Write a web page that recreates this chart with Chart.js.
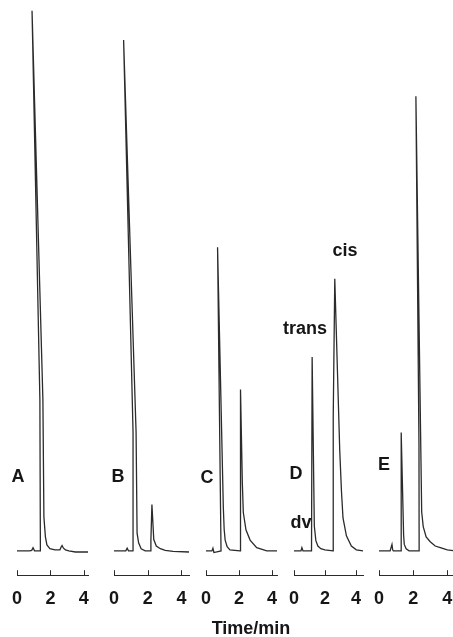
<!DOCTYPE html>
<html>
<head>
<meta charset="utf-8">
<script src="https://cdn.jsdelivr.net/npm/chart.js@4.4.1/dist/chart.umd.min.js"></script>
<style>
  html, body { margin: 0; padding: 0; background: #fff; }
  body { width: 453px; height: 637px; position: relative; overflow: hidden; }
  canvas { position: absolute; top: 0; }
  .lbl { position: absolute; transform: translate(-50%, -50%); font: bold 18px "Liberation Sans", Arial, sans-serif; color: #161616; white-space: nowrap; }
</style>
</head>
<body>
<canvas id="chartA"></canvas>
<canvas id="chartB"></canvas>
<canvas id="chartC"></canvas>
<canvas id="chartD"></canvas>
<canvas id="chartE"></canvas>

<div class="lbl" style="left:18px;top:476px">A</div>
<div class="lbl" style="left:118px;top:476px">B</div>
<div class="lbl" style="left:207px;top:477px">C</div>
<div class="lbl" style="left:296px;top:473px">D</div>
<div class="lbl" style="left:301px;top:522px">dv</div>
<div class="lbl" style="left:305px;top:328px">trans</div>
<div class="lbl" style="left:345px;top:250px">cis</div>
<div class="lbl" style="left:384px;top:464px">E</div>
<div class="lbl" style="left:251px;top:628px">Time/min</div>

<script>
// time (min) and detector response (A main peak = 100)
const timeA   = [0, 0.75, 0.88, 0.96, 1.05, 1.40, 1.37, 0.90, 1.55, 1.61, 1.70, 1.79, 1.97, 2.27, 2.57, 2.64, 2.70, 2.78, 2.90, 3.10, 3.50, 4.25];
const signalA = [0, 0, 0.1, 0.6, 0, 0, 28, 100, 28, 6.3, 2.6, 1.1, 0.4, 0.2, 0.2, 0.7, 1.0, 0.5, 0.2, 0, -0.2, -0.2];

const timeB   = [0, 0.70, 0.78, 0.86, 1.16, 1.13, 0.57, 1.31, 1.37, 1.46, 1.61, 1.85, 2.18, 2.19, 2.25, 2.36, 2.51, 2.75, 3.04, 3.50, 4.45];
const signalB = [0, 0, 0.5, 0, 0, 22, 94.6, 22, 3.3, 1.5, 0.4, 0, 0, 2, 8.6, 2.1, 0.9, 0.4, 0.1, -0.1, -0.2];

const timeC   = [0, 0.36, 0.42, 0.48, 0.91, 0.70, 1.05, 1.10, 1.16, 1.28, 1.45, 2.06, 2.09, 2.20, 2.26, 2.42, 2.67, 3.07, 3.68, 4.30];
const signalC = [0, 0, 0.5, -0.3, 0, 56.2, 8.0, 4.0, 2.0, 0.8, 0.2, 0, 29.9, 12.6, 7.1, 3.9, 2.0, 0.6, 0, 0];

const timeD   = [0, 0.45, 0.51, 0.58, 1.13, 1.17, 1.31, 1.41, 1.54, 1.73, 1.99, 2.52, 2.53, 2.63, 2.95, 3.06, 3.16, 3.38, 3.70, 4.02, 4.45];
const signalD = [0, 0, 0.6, 0, 0, 35.9, 4.6, 1.9, 0.9, 0.4, 0.2, 0, 24.7, 50.4, 18.6, 11.1, 6.1, 2.8, 0.9, 0.2, 0];

const timeE   = [0, 0.65, 0.76, 0.80, 0.84, 1.29, 1.30, 1.44, 1.48, 1.59, 1.76, 2.35, 2.34, 2.16, 2.50, 2.59, 2.76, 3.00, 3.29, 3.59, 4.00, 4.45];
const signalE = [0, 0, 1.2, 0.2, 0, 0, 21.9, 3.0, 1.2, 0.4, 0, 0, 20, 84.2, 7.2, 4.5, 2.6, 1.7, 0.9, 0.6, 0.2, 0];

const tickValues = [0, 2, 4];

const lineColor = '#2b2b2b';
const padSide = 12;

// where each panel sits on the page: left edge of t=0, px per min, axis end
const panels = [
  { id: 'chartA', time: timeA, signal: signalA, left: 17,  ppm: 16.75, xmax: 4.25 },
  { id: 'chartB', time: timeB, signal: signalB, left: 114, ppm: 16.75, xmax: 4.45 },
  { id: 'chartC', time: timeC, signal: signalC, left: 206, ppm: 16.5,  xmax: 4.3 },
  { id: 'chartD', time: timeD, signal: signalD, left: 294, ppm: 15.6,  xmax: 4.45 },
  { id: 'chartE', time: timeE, signal: signalE, left: 379, ppm: 17,    xmax: 4.45 },
];

// small tick marks pointing up from the time axis
const upTicks = {
  id: 'upTicks',
  afterDraw(chart) {
    const { ctx, chartArea } = chart;
    const x = chart.scales.x;
    ctx.save();
    ctx.strokeStyle = lineColor;
    ctx.lineWidth = 1;
    x.ticks.forEach(t => {
      const px = Math.round(x.getPixelForValue(t.value)) + 0.5;
      ctx.beginPath();
      ctx.moveTo(px, chartArea.bottom);
      ctx.lineTo(px, chartArea.bottom - 5);
      ctx.stroke();
    });
    ctx.restore();
  }
};

panels.forEach(p => {
  const canvas = document.getElementById(p.id);
  const areaW = Math.round(p.xmax * p.ppm);
  canvas.width = areaW + padSide * 2;
  canvas.height = 637;
  canvas.style.left = (p.left - padSide) + 'px';

  new Chart(canvas, {
    type: 'scatter',
    data: {
      datasets: [{
        data: p.time.map((t, i) => ({ x: t, y: p.signal[i] })),
        showLine: true,
        borderColor: lineColor,
        borderWidth: 1.3,
        pointRadius: 0,
        tension: 0,
        fill: false,
      }]
    },
    options: {
      responsive: false,
      animation: false,
      layout: { padding: { left: padSide, right: padSide, top: 0, bottom: 14.2 } },
      plugins: { legend: { display: false }, tooltip: { enabled: false } },
      scales: {
        x: {
          type: 'linear',
          min: 0,
          max: p.xmax,
          afterBuildTicks: s => { s.ticks = tickValues.map(v => ({ value: v })); },
          afterFit: s => { s.paddingLeft = 0; s.paddingRight = 0; },
          grid: { display: false, drawTicks: false },
          border: { display: true, color: lineColor, width: 1 },
          ticks: {
            padding: 13,
            color: '#161616',
            font: { family: '"Liberation Sans", Arial, sans-serif', size: 18, weight: 'bold' },
          },
        },
        y: { display: false, min: -4.5, max: 102 },
      }
    },
    plugins: [upTicks]
  });
});
</script>
</body>
</html>
